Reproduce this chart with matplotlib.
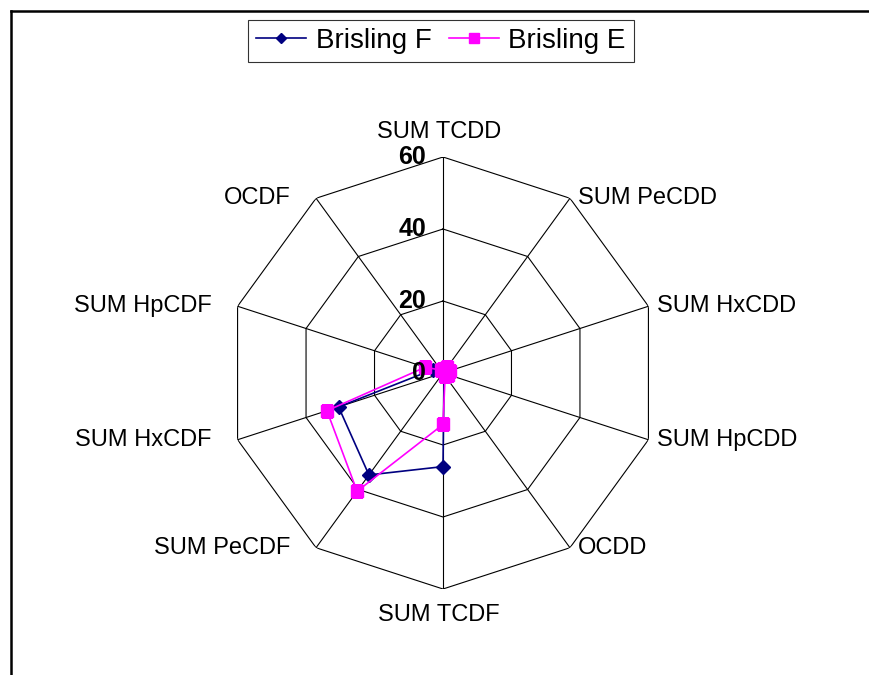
#!/usr/bin/env python
import numpy as np
import matplotlib
matplotlib.use('Agg')
import matplotlib.pyplot as plt
from matplotlib.lines import Line2D

plt.rcParams['font.family'] = ['Liberation Sans', 'DejaVu Sans']

categories = ['SUM TCDD', 'SUM PeCDD', 'SUM HxCDD', 'SUM HpCDD', 'OCDD',
              'SUM TCDF', 'SUM PeCDF', 'SUM HxCDF', 'SUM HpCDF', 'OCDF']
brisling_f = [0.5, 1.0, 1.0, 1.0, 0.5, 26.0, 35.0, 30.5, 3.0, 0.5]
brisling_e = [1.0, 2.0, 2.0, 1.5, 1.0, 14.3, 40.6, 33.9, 5.2, 1.0]
rings = [0, 20, 40, 60]

W, H = 869, 675
fig = plt.figure(figsize=(W / 100, H / 100), dpi=100)

# plot area: centre (443,373), radius 216 px
cx, cy, rad = 443, 373, 216
ax = fig.add_axes([(cx - rad) / W, (H - cy - rad) / H, 2 * rad / W, 2 * rad / H],
                  projection='polar')
ax.set_theta_offset(np.pi / 2)
ax.set_theta_direction(-1)
ax.set_ylim(0, 60)
ax.grid(False)
ax.spines['polar'].set_visible(False)
ax.set_xticks([])
ax.set_yticks([])
ax.patch.set_visible(False)

n = len(categories)
theta = np.arange(n) * 2 * np.pi / n
theta_c = np.append(theta, theta[0])

# polygon grid
for r in rings[1:]:
    ax.plot(theta_c, [r] * (n + 1), color='black', lw=0.8, zorder=1)
for t in theta:
    ax.plot([t, t], [0, 60], color='black', lw=0.8, zorder=1)

# series
f_c = brisling_f + brisling_f[:1]
e_c = brisling_e + brisling_e[:1]
ax.plot(theta_c, f_c, color='#000080', lw=1.2, marker='D', ms=7,
        label='Brisling F', zorder=3)
ax.plot(theta_c, e_c, color='#FF00FF', lw=1.2, marker='s', ms=9,
        label='Brisling E', zorder=4)

# radial tick labels
for r in rings:
    ax.annotate(str(r), xy=(0, r), xytext=(-12, 0), textcoords='offset points',
                ha='right', va='center', fontsize=18, fontweight='bold',
                annotation_clip=False, zorder=5)

# category labels (Excel puts the left ones further out)
for t, lab in zip(theta, categories):
    s, c = np.sin(t), np.cos(t)
    if abs(s) < 1e-6:
        dy = 18 if c > 0 else -19
        ax.annotate(lab, xy=(t, 60), xytext=(-3, dy), textcoords='offset points',
                    ha='center', va='center', fontsize=17, annotation_clip=False)
    else:
        ha = 'left' if s > 0 else 'right'
        dx = 6 if s > 0 else -18.5
        ax.annotate(lab, xy=(t, 60), xytext=(dx, 0), textcoords='offset points',
                    ha=ha, va='center', fontsize=17, annotation_clip=False)

# legend
leg = fig.legend(loc='center', bbox_to_anchor=(441 / W, 1 - 41 / H), ncol=2,
                 fontsize=20, frameon=True, fancybox=False, handlelength=1.8,
                 handletextpad=0.35, columnspacing=0.6, borderpad=0.3,
                 markerscale=0.8)
leg.get_frame().set_edgecolor('black')
leg.get_frame().set_linewidth(0.8)

# chart border (cut at right and bottom)
fig.add_artist(Line2D([11 / W, 1], [1 - 11 / H, 1 - 11 / H],
                      transform=fig.transFigure, color='black', lw=1.8))
fig.add_artist(Line2D([11 / W, 11 / W], [0, 1 - 11 / H],
                      transform=fig.transFigure, color='black', lw=1.8))

fig.savefig('out.png', dpi=100)
